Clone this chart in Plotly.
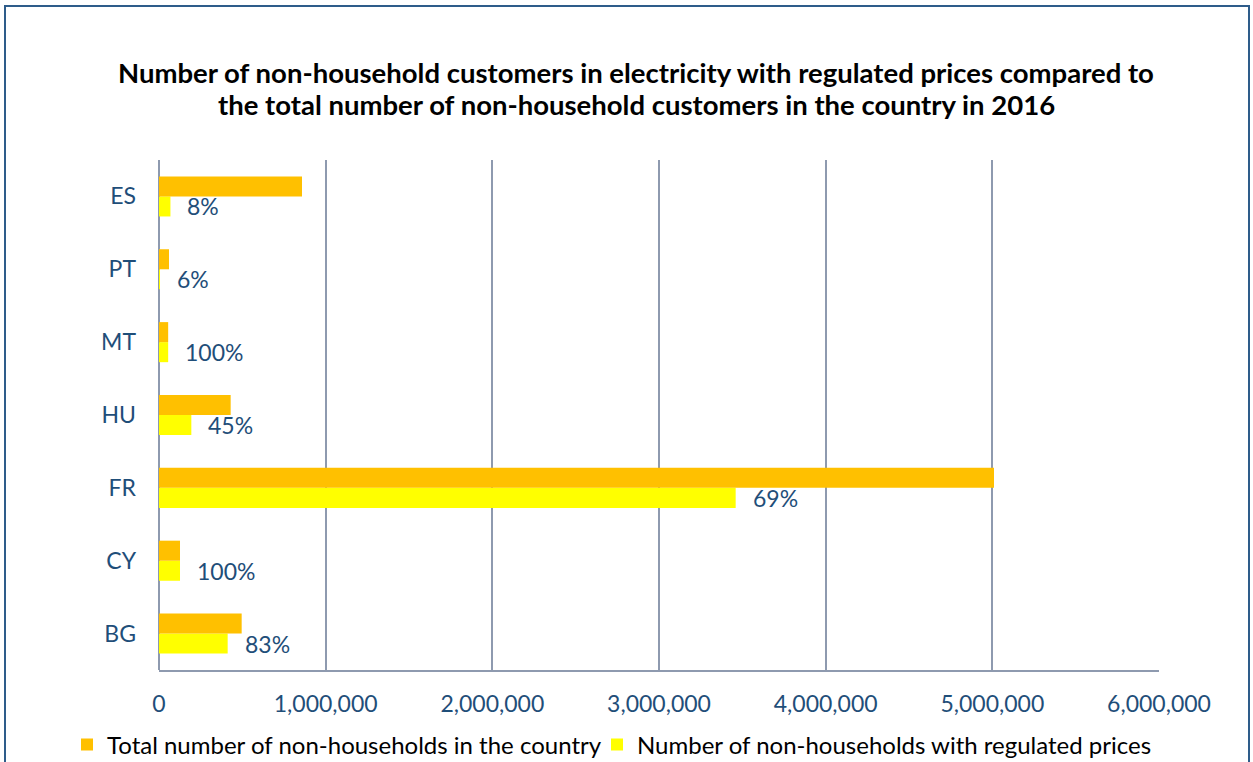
import plotly.graph_objects as go

# Countries listed bottom to top as they appear on the category axis
countries = ["BG", "CY", "FR", "HU", "MT", "PT", "ES"]
total_customers = [496000, 126000, 5010000, 430000, 55000, 60000, 858000]
regulated_customers = [412000, 126000, 3460000, 194000, 55000, 3600, 68600]

x_ticks = [0, 1000000, 2000000, 3000000, 4000000, 5000000, 6000000]
x_tick_labels = ["0", "1,000,000", "2,000,000", "3,000,000", "4,000,000", "5,000,000", "6,000,000"]

title_lines = [
    "Number of non-household customers in electricity with regulated prices compared to",
    "the total number of non-household customers in the country in 2016",
]
name_total = "Total number of non-households in the country"
name_regulated = "Number of non-households with regulated prices"

FONT = "Lato, Carlito, Calibri, sans-serif"
BLUE_TEXT = "#1F4E79"
GRID = "#8E9AAF"
ORANGE = "#FFC000"
YELLOW = "#FFFF00"

fig = go.Figure()
# Yellow first so it sits below the orange bar inside each group
fig.add_trace(go.Bar(
    y=countries, x=regulated_customers, orientation="h", name=name_regulated,
    marker=dict(color=YELLOW, line=dict(width=0)), legend="legend2",
))
fig.add_trace(go.Bar(
    y=countries, x=total_customers, orientation="h", name=name_total,
    marker=dict(color=ORANGE, line=dict(width=0)), legend="legend",
))

# Share of regulated customers, printed next to the yellow bar
annotations = []
for c, tot, reg in zip(countries, total_customers, regulated_customers):
    pct = round(100 * reg / tot)
    annotations.append(dict(
        x=reg, y=c, xref="x", yref="y", text=f"{pct}%", showarrow=False,
        xanchor="left", yanchor="middle", xshift=15, yshift=-10,
        font=dict(family=FONT, size=23, color=BLUE_TEXT),
    ))

# Two-line bold title
for line, ypos in zip(title_lines, [1.1706, 1.1098]):
    annotations.append(dict(
        x=0.477, y=ypos, xref="paper", yref="paper", text=f"<b>{line}</b>",
        showarrow=False, xanchor="center", yanchor="middle",
        font=dict(family=FONT, size=27.5, color="#000000"),
    ))

legend_common = dict(
    orientation="h", yanchor="middle", y=-0.147, xanchor="left",
    font=dict(family=FONT, size=24, color="#000000"),
    itemwidth=30, bgcolor="rgba(0,0,0,0)", borderwidth=0,
)

fig.update_layout(
    width=1253, height=762,
    margin=dict(l=159, r=94, t=160, b=92, autoexpand=False),
    paper_bgcolor="white", plot_bgcolor="white",
    barmode="group", bargap=0.45, bargroupgap=0,
    font=dict(family=FONT, color=BLUE_TEXT),
    annotations=annotations,
    showlegend=True,
    legend=dict(x=-0.092, **legend_common),
    legend2=dict(x=0.438, **legend_common),
    xaxis=dict(
        range=[0, 6000000], tickvals=x_ticks, ticktext=x_tick_labels,
        showgrid=True, gridcolor=GRID, gridwidth=2,
        zeroline=True, zerolinecolor=GRID, zerolinewidth=2,
        showline=True, linecolor=GRID, linewidth=2, mirror=False,
        ticks="", ticklabelstandoff=12,
        tickfont=dict(family=FONT, size=23, color=BLUE_TEXT),
        fixedrange=True,
    ),
    yaxis=dict(
        categoryorder="array", categoryarray=countries,
        showgrid=False, showline=False, zeroline=False,
        ticks="", ticklabelstandoff=22,
        tickfont=dict(family=FONT, size=23, color=BLUE_TEXT),
        fixedrange=True,
    ),
    shapes=[dict(
        type="rect", xref="paper", yref="paper",
        x0=-0.154, x1=1.090, y0=-0.25, y1=1.302,
        line=dict(color="#2E5C8A", width=2), fillcolor="rgba(0,0,0,0)", layer="below",
    )],
)

fig.write_html("out.html")
